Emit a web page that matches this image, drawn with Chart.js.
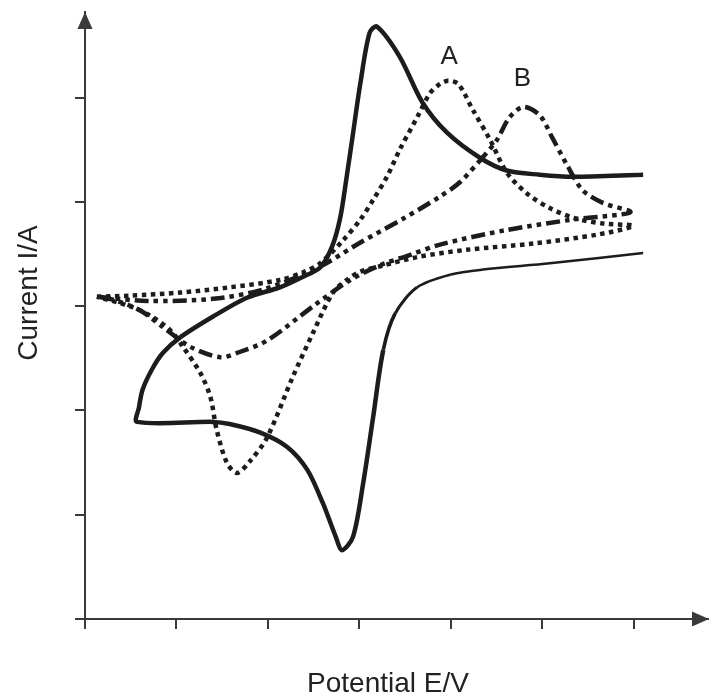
<!DOCTYPE html>
<html>
<head>
<meta charset="utf-8">
<script src="https://cdn.jsdelivr.net/npm/chart.js@4.4.1/dist/chart.umd.min.js"></script>
<style>
  html, body { margin: 0; padding: 0; background: #fff; }
  #cv { display: block; }
</style>
</head>
<body>
<canvas id="cv" width="709" height="695"></canvas>
<script>
// axes ticks (arbitrary units, no labels in the figure)
const potentialTicks = [0, 1, 2, 3, 4, 5, 6];
const currentTicks = [0, 1, 2, 3, 4, 5];

// solid curve
const solidE = [6.10, 5.08, 4.35, 3.99, 3.63, 3.39, 3.26, 3.15, 3.04, 2.93, 2.81, 2.74, 2.60, 2.43, 2.21, 1.91, 1.58, 1.40, 0.57,
  0.59, 0.63, 0.73, 0.85, 1.04, 1.40, 1.77, 2.13, 2.38, 2.57, 2.70, 2.79, 2.86, 2.93, 3.01, 3.11, 3.19, 3.44, 3.69, 3.96, 4.32, 4.61, 4.97, 5.33, 6.10];
const solidI = [3.51, 3.41, 3.35, 3.30, 3.18, 2.93, 2.58, 1.94, 1.30, 0.79, 0.66, 0.79, 1.11, 1.43, 1.65, 1.79, 1.87, 1.89, 1.89,
  2.03, 2.20, 2.39, 2.55, 2.70, 2.90, 3.08, 3.18, 3.28, 3.37, 3.57, 3.85, 4.24, 4.66, 5.14, 5.62, 5.68, 5.39, 4.95, 4.66, 4.42, 4.30, 4.26, 4.24, 4.26];

// curve A (dotted)
const curveAE = [0.13, 0.49, 1.04, 1.58, 2.13, 2.40, 2.57, 2.82, 3.01, 3.15, 3.30, 3.44, 3.63, 3.77, 3.88, 3.97, 4.08, 4.24, 4.43, 4.61, 4.83, 5.08, 5.36, 5.68, 5.99,
  5.63, 4.90, 4.17, 3.63, 3.26, 3.01, 2.86, 2.71, 2.49, 2.27, 1.99, 1.80, 1.66, 1.55, 1.44, 1.37, 1.26, 1.07, 0.93, 0.71, 0.49, 0.13];
const curveAI = [3.09, 3.10, 3.13, 3.18, 3.25, 3.33, 3.41, 3.63, 3.83, 4.02, 4.24, 4.50, 4.81, 5.04, 5.13, 5.16, 5.13, 4.88, 4.59, 4.28, 4.08, 3.94, 3.84, 3.79, 3.77,
  3.69, 3.60, 3.54, 3.47, 3.39, 3.33, 3.25, 3.13, 2.74, 2.32, 1.74, 1.51, 1.40, 1.50, 1.81, 2.13, 2.36, 2.61, 2.77, 2.91, 3.00, 3.09];

// curve B (dash-dot-dot)
const curveBE = [0.13, 0.68, 1.40, 1.95, 2.57, 3.01, 3.48, 3.88, 4.10, 4.35, 4.50, 4.64, 4.79, 4.97, 5.11, 5.27, 5.44, 5.66, 5.96,
  5.33, 4.61, 3.88, 3.55, 3.22, 2.90, 2.51, 1.99, 1.69, 1.48, 1.15, 0.85, 0.60, 0.31, 0.13];
const curveBI = [3.09, 3.05, 3.07, 3.16, 3.38, 3.61, 3.84, 4.05, 4.19, 4.43, 4.59, 4.81, 4.91, 4.83, 4.61, 4.35, 4.11, 3.99, 3.90,
  3.83, 3.73, 3.59, 3.49, 3.39, 3.25, 3.01, 2.67, 2.56, 2.51, 2.61, 2.80, 2.96, 3.06, 3.09];

// peak labels
const peakNames = ["A", "B"];
const peakE = [3.98, 4.78];
const peakI = [5.40, 5.19];

const toPoints = (xs, ys) => xs.map((x, i) => ({ x, y: ys[i] }));

const ink = "#1c1c1c";
const axisInk = "#3a3a3a";

const curve = (data, dash, width) => ({
    data,
    showLine: true,
    borderColor: ink,
    borderWidth: width,
    borderDash: dash,
    borderCapStyle: "butt",
    borderJoinStyle: "round",
    pointRadius: 0,
    tension: 0.3,
    fill: false
});

// arrows, axis titles and peak letters
const decorations = {
    id: "decorations",
    afterDraw(chart) {
        const { ctx, chartArea: a, scales } = chart;
        ctx.save();
        ctx.fillStyle = axisInk;
        ctx.beginPath();
        ctx.moveTo(a.left, a.top);
        ctx.lineTo(a.left - 7.5, a.top + 17);
        ctx.lineTo(a.left + 7.5, a.top + 17);
        ctx.closePath();
        ctx.fill();
        ctx.beginPath();
        ctx.moveTo(a.right, a.bottom);
        ctx.lineTo(a.right - 17, a.bottom - 7.5);
        ctx.lineTo(a.right - 17, a.bottom + 7.5);
        ctx.closePath();
        ctx.fill();

        ctx.fillStyle = "#222";
        ctx.font = "28px 'Liberation Sans', Arial, sans-serif";
        ctx.textAlign = "center";
        ctx.textBaseline = "alphabetic";
        ctx.fillText("Potential E/V", 388, 692);

        ctx.translate(37, 293);
        ctx.rotate(-Math.PI / 2);
        ctx.fillText("Current I/A", 0, 0);
        ctx.restore();

        ctx.save();
        ctx.fillStyle = "#222";
        ctx.font = "26px 'Liberation Sans', Arial, sans-serif";
        ctx.textAlign = "center";
        ctx.textBaseline = "middle";
        peakNames.forEach((n, i) => {
            ctx.fillText(n, scales.x.getPixelForValue(peakE[i]), scales.y.getPixelForValue(peakI[i]) + 1);
        });
        ctx.restore();
    }
};

const axisGrid = {
    drawOnChartArea: false,
    drawTicks: true,
    tickLength: 10,
    color: axisInk,
    lineWidth: 2
};

const solidSet = curve(toPoints(solidE, solidI), [], 4.5);
// the return branch on the lower right is drawn thinner in the figure
const returnWidths = [2.5, 2.5, 2.5, 2.6, 3, 3.6];
solidSet.segment = { borderWidth: c => (c.p0DataIndex < returnWidths.length ? returnWidths[c.p0DataIndex] : 4.5) };

new Chart(document.getElementById("cv"), {
    type: "scatter",
    data: {
        datasets: [
            curve(toPoints(curveBE, curveBI), [14, 5, 4.5, 5, 4.5, 5], 4.5),
            curve(toPoints(curveAE, curveAI), [4.5, 4.5], 4.5),
            solidSet
        ]
    },
    options: {
        responsive: false,
        animation: false,
        layout: { padding: { top: 12, right: 0, left: 0, bottom: 0 } },
        plugins: {
            legend: { display: false },
            tooltip: { enabled: false }
        },
        scales: {
            x: {
                type: "linear",
                min: 0,
                max: 6.82,
                grid: axisGrid,
                border: { display: true, color: axisInk, width: 2 },
                ticks: { display: false },
                afterBuildTicks: s => { s.ticks = potentialTicks.map(v => ({ value: v })); },
                afterFit: s => { s.height = 76; }
            },
            y: {
                type: "linear",
                min: 0,
                max: 5.82,
                grid: axisGrid,
                border: { display: true, color: axisInk, width: 2 },
                ticks: { display: false },
                afterBuildTicks: s => { s.ticks = currentTicks.map(v => ({ value: v })); },
                afterFit: s => { s.width = 85; }
            }
        }
    },
    plugins: [decorations]
});
</script>
</body>
</html>
